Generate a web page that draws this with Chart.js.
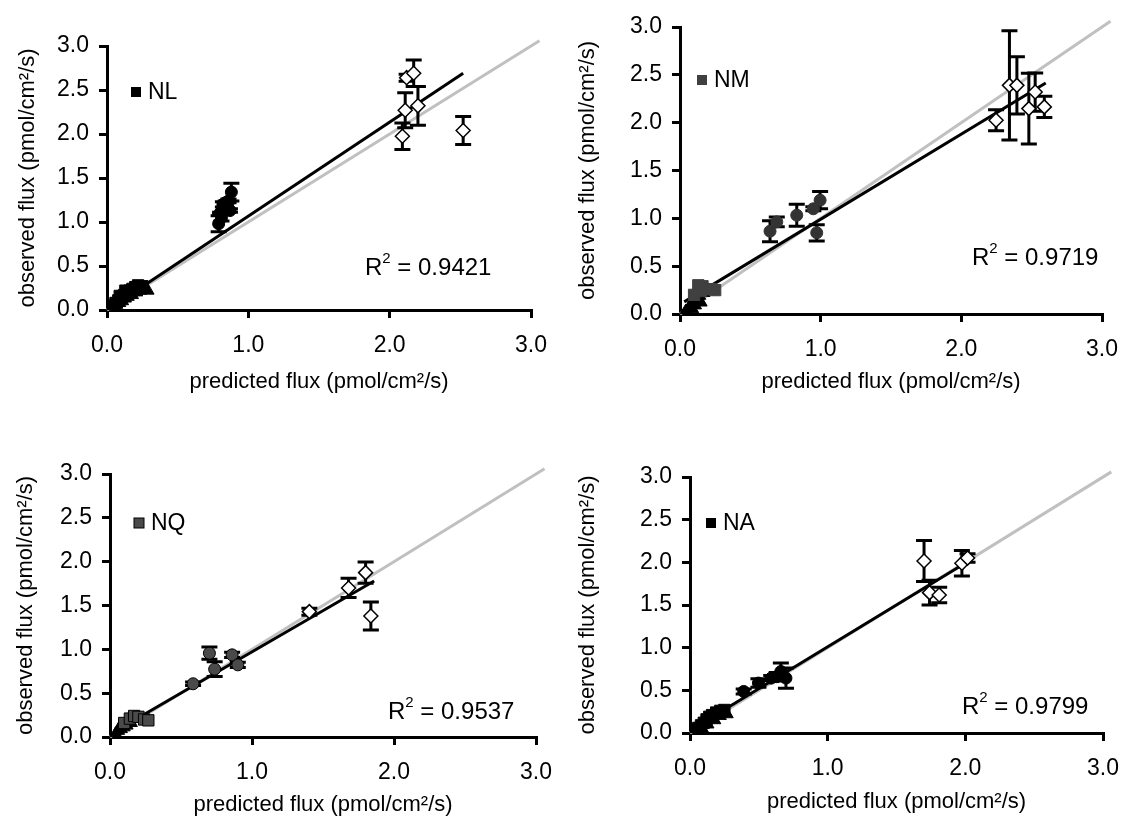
<!DOCTYPE html>
<html><head><meta charset="utf-8">
<script src="https://cdn.jsdelivr.net/npm/chart.js@4.4.0/dist/chart.umd.min.js"></script>
<style>
html,body{margin:0;padding:0;background:#fff;}
#wrap{position:relative;width:1133px;height:835px;overflow:hidden;background:#fff;}
canvas{position:absolute;}
</style></head><body>
<div id="wrap">
<canvas id="c1" width="566" height="400" style="left:0;top:0"></canvas>
<canvas id="c2" width="567" height="400" style="left:566px;top:0"></canvas>
<canvas id="c3" width="566" height="435" style="left:0;top:400px"></canvas>
<canvas id="c4" width="567" height="435" style="left:566px;top:400px"></canvas>
</div>
<script>
// ---------------- DATA ----------------
const xTicks = [0, 1, 2, 3];
const yTicks = [0, 0.5, 1, 1.5, 2, 2.5, 3];
const identityLine = [0, 3.06];

// NL
const NL_lowSq  = [[0.04,0.05],[0.06,0.08],[0.08,0.11],[0.10,0.14],[0.12,0.17],[0.14,0.19],[0.16,0.22],[0.18,0.24],[0.20,0.26],[0.22,0.28],[0.25,0.27],[0.09,0.16],[0.13,0.22]];
const NL_lowTri = [[0.05,0.03],[0.07,0.06],[0.09,0.08],[0.11,0.10],[0.13,0.13],[0.15,0.15],[0.18,0.17],[0.21,0.20],[0.24,0.22],[0.27,0.23],[0.29,0.22]];
const NL_mid    = [[0.88,1.34],[0.82,1.20],[0.85,1.17],[0.80,1.10],[0.79,0.98],[0.87,1.13],[0.84,1.22],[0.86,1.24],[0.81,1.05]];
const NL_midErr = [0.10,0.03,0.05,0.01,0.09,0.02,0.02,0.02,0.04];
const NL_high   = [[2.12,2.64],[2.17,2.69],[2.11,2.27],[2.20,2.32],[2.09,1.975],[2.52,2.04]];
const NL_highErr= [0.04,0.15,0.20,0.22,0.15,0.16];
const NL_fit    = [[0.02,0.02],[2.52,2.69]];
const NL_r2 = "0.9421";

// NM
const NM_lowSq  = [[0.13,0.30],[0.16,0.29],[0.22,0.26],[0.25,0.25],[0.15,0.24],[0.10,0.20]];
const NM_lowTri = [[0.04,0.03],[0.06,0.06],[0.08,0.10],[0.10,0.13],[0.12,0.16],[0.14,0.19],[0.17,0.22],[0.07,0.08],[0.09,0.05],[0.11,0.09],[0.15,0.12]];
const NM_mid    = [[0.64,0.866],[0.688,0.963],[0.83,1.033],[0.948,1.10],[0.996,1.19],[0.972,0.849]];
const NM_midErr = [0.11,0.05,0.115,0.02,0.09,0.085];
const NM_high   = [[2.247,2.025],[2.342,2.39],[2.395,2.39],[2.48,2.147],[2.525,2.32],[2.59,2.165]];
const NM_highErr= [0.11,0.57,0.30,0.37,0.20,0.11];
const NM_fit    = [[0.03,0.127],[2.60,2.414]];
const NM_r2 = "0.9719";

// NQ
const NQ_lowSq  = [[0.10,0.16],[0.14,0.21],[0.17,0.24],[0.20,0.23],[0.24,0.20],[0.27,0.19]];
const NQ_lowTri = [[0.04,0.04],[0.06,0.07],[0.08,0.09],[0.10,0.11],[0.12,0.13],[0.15,0.16],[0.07,0.12]];
const NQ_mid    = [[0.585,0.607],[0.70,0.956],[0.737,0.774],[0.86,0.937],[0.90,0.823]];
const NQ_midErr = [0.02,0.07,0.085,0.03,0.03];
const NQ_high   = [[1.404,1.43],[1.68,1.70],[1.80,1.875],[1.837,1.38]];
const NQ_highErr= [0.04,0.11,0.12,0.16];
const NQ_fit    = [[0.03,0.059],[1.86,1.78]];
const NQ_r2 = "0.9537";

// NA
const NA_lowSq  = [[0.04,0.03],[0.06,0.06],[0.08,0.09],[0.10,0.12],[0.12,0.16],[0.14,0.19],[0.16,0.21],[0.19,0.24],[0.22,0.26],[0.25,0.27]];
const NA_lowTri = [[0.09,0.05],[0.13,0.10],[0.18,0.15],[0.22,0.20],[0.27,0.22]];
const NA_mid    = [[0.39,0.487],[0.497,0.585],[0.59,0.643],[0.66,0.72],[0.697,0.643],[0.63,0.66]];
const NA_midErr = [0.03,0.05,0.03,0.10,0.12,0.05];
const NA_high   = [[1.70,2.015],[1.74,1.645],[1.81,1.617],[1.975,1.99],[2.016,2.05]];
const NA_highErr= [0.24,0.145,0.09,0.15,0.05];
const NA_fit    = [[0.03,0.059],[2.016,2.006]];
const NA_r2 = "0.9799";

// ---------------- RENDERING ----------------
const FONT = "'Liberation Sans', Arial, Helvetica, sans-serif";
const TITLE_X = "predicted flux (pmol/cm\u00B2/s)";
const TITLE_Y = "observed flux (pmol/cm\u00B2/s)";

function pts(arr){ return arr.map(p => ({x:p[0], y:p[1]})); }

const decor = {
  id: 'decor',
  afterDatasetDraw(chart, args, o) {
    const ds = chart.data.datasets[args.index];
    if (ds.role !== 'fit') return;
    const ctx = chart.ctx, xs = chart.scales.x, ys = chart.scales.y;
    ctx.save();
    ctx.strokeStyle = '#000';
    ctx.lineWidth = 3;
    ctx.lineCap = 'butt';
    chart.data.datasets.forEach(d => {
      if (!d.errors) return;
      d.data.forEach((p, i) => {
        const e = d.errors[i];
        if (!e) return;
        const px = xs.getPixelForValue(p.x);
        const yt = ys.getPixelForValue(p.y + e);
        const yb = ys.getPixelForValue(p.y - e);
        ctx.beginPath();
        ctx.moveTo(px, yt); ctx.lineTo(px, yb);
        ctx.moveTo(px - 8, yt); ctx.lineTo(px + 8, yt);
        ctx.moveTo(px - 8, yb); ctx.lineTo(px + 8, yb);
        ctx.stroke();
      });
    });
    ctx.restore();
  },
  afterDraw(chart, args, o) {
    const ctx = chart.ctx, a = chart.chartArea;
    ctx.save();
    // legend
    const lx = a.left + o.legend[0], ly = a.top + o.legend[1];
    ctx.fillStyle = o.legendColor;
    ctx.fillRect(lx - 5, ly - 5, 10, 10);
    if (o.legendBorder) { ctx.strokeStyle = '#000'; ctx.lineWidth = 1; ctx.strokeRect(lx - 5, ly - 5, 10, 10); }
    ctx.fillStyle = '#000';
    ctx.font = "23px " + FONT;
    ctx.textAlign = 'left'; ctx.textBaseline = 'middle';
    ctx.fillText(o.legendText, lx + 12, ly + 1);
    // R2
    let rx = a.left + o.r2Pos[0], ry = a.top + o.r2Pos[1];
    ctx.font = "24px " + FONT;
    ctx.fillText("R", rx, ry);
    rx += ctx.measureText("R").width;
    ctx.font = "15px " + FONT;
    ctx.fillText("2", rx, ry - 9);
    rx += ctx.measureText("2").width;
    ctx.font = "24px " + FONT;
    ctx.fillText(" = " + o.r2, rx, ry);
    // axis titles
    ctx.font = "22px " + FONT;
    ctx.textAlign = 'center';
    ctx.fillText(TITLE_X, (a.left + a.right) / 2, o.xTitleY);
    ctx.translate(o.yTitleX, (a.top + a.bottom) / 2);
    ctx.rotate(-Math.PI / 2);
    ctx.fillText(TITLE_Y, 0, 0);
    ctx.restore();
  }
};

function makePanel(id, W, H, area, d, deco) {
  const tickFont = {family: FONT, size: 23};
  const datasets = [
    {type:'line', role:'identity', data: identityLine.map(v => ({x:v, y:v})), borderColor:'#c0c0c0', borderWidth:3, pointRadius:0, clip:false, order:10},
    {type:'line', role:'fit', data: pts(d.fit), borderColor:'#000', borderWidth:3, pointRadius:0, order:9},
    {type:'scatter', data: pts(d.lowTri), pointStyle:'triangle', radius:7, backgroundColor:'#000', borderColor:'#000', borderWidth:1, order:3},
    {type:'scatter', data: pts(d.lowSq), pointStyle:'rect', radius:8, backgroundColor:d.sqColor, borderColor:d.sqBorder, borderWidth:1, order:2},
    {type:'scatter', data: pts(d.mid), errors: d.midErr, pointStyle:'circle', radius:6, backgroundColor:d.circColor, borderColor:d.circBorder, borderWidth:1, order:1},
    {type:'scatter', data: pts(d.high), errors: d.highErr, pointStyle:'rectRot', radius:7, backgroundColor:'#fff', borderColor:'#000', borderWidth:1.5, order:0}
  ];
  return new Chart(document.getElementById(id), {
    data: {datasets},
    options: {
      responsive:false, animation:false, devicePixelRatio:1,
      layout:{padding:{left:0, top:area.top, right:W - area.right, bottom:0}},
      plugins:{legend:{display:false}, tooltip:{enabled:false}, decor: deco},
      scales:{
        x:{type:'linear', min:0, max:3,
           afterBuildTicks(s){ s.ticks = xTicks.map(v => ({value:v})); },
           ticks:{callback:v => Number(v).toFixed(1), font:tickFont, color:'#000', padding:14},
           grid:{drawOnChartArea:false, drawTicks:true, tickLength:8, color:'#000', lineWidth:3},
           border:{color:'#000', width:3},
           afterFit(s){ s.height = H - area.bottom; }},
        y:{type:'linear', min:0, max:3,
           afterBuildTicks(s){ s.ticks = yTicks.map(v => ({value:v})); },
           ticks:{callback:v => Number(v).toFixed(1), font:tickFont, color:'#000', padding:10},
           grid:{drawOnChartArea:false, drawTicks:true, tickLength:8, color:'#000', lineWidth:3},
           border:{color:'#000', width:3},
           afterFit(s){ s.width = area.left; }}
      }
    },
    plugins:[decor]
  });
}

makePanel('c1', 566, 400, {left:107, top:46, right:531, bottom:310},
  {fit:NL_fit, lowSq:NL_lowSq, lowTri:NL_lowTri, mid:NL_mid, midErr:NL_midErr, high:NL_high, highErr:NL_highErr,
   sqColor:'#000', sqBorder:'#000', circColor:'#000', circBorder:'#000'},
  {legend:[29,46], legendColor:'#000', legendText:'NL', r2Pos:[258,222], r2:NL_r2, xTitleY:382, yTitleX:28});

makePanel('c2', 567, 400, {left:114, top:27, right:536, bottom:314},
  {fit:NM_fit, lowSq:NM_lowSq, lowTri:NM_lowTri, mid:NM_mid, midErr:NM_midErr, high:NM_high, highErr:NM_highErr,
   sqColor:'#404040', sqBorder:'#404040', circColor:'#333', circBorder:'#333'},
  {legend:[22,53], legendColor:'#404040', legendText:'NM', r2Pos:[292,231], r2:NM_r2, xTitleY:382, yTitleX:22});

makePanel('c3', 566, 435, {left:110, top:74, right:537, bottom:337},
  {fit:NQ_fit, lowSq:NQ_lowSq, lowTri:NQ_lowTri, mid:NQ_mid, midErr:NQ_midErr, high:NQ_high, highErr:NQ_highErr,
   sqColor:'#4a4a4a', sqBorder:'#000', circColor:'#4a4a4a', circBorder:'#000'},
  {legend:[29,49], legendColor:'#4a4a4a', legendBorder:true, legendText:'NQ', r2Pos:[278,238], r2:NQ_r2, xTitleY:405, yTitleX:26});

makePanel('c4', 567, 435, {left:124, top:77, right:547, bottom:333},
  {fit:NA_fit, lowSq:NA_lowSq, lowTri:NA_lowTri, mid:NA_mid, midErr:NA_midErr, high:NA_high, highErr:NA_highErr,
   sqColor:'#000', sqBorder:'#000', circColor:'#000', circBorder:'#000'},
  {legend:[21,46], legendColor:'#000', legendText:'NA', r2Pos:[272,230], r2:NA_r2, xTitleY:402, yTitleX:22});
</script>
</body></html>
